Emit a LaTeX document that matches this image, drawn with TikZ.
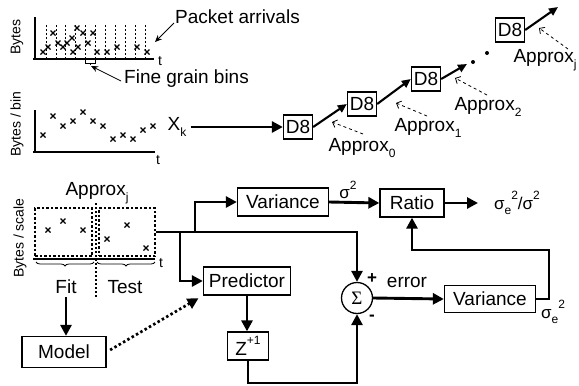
\documentclass[tikz,border=0pt]{standalone}
\usepackage{fontspec}
\setmainfont{Liberation Sans}
\newfontfamily\sigfont{Liberation Serif}
\usetikzlibrary{arrows.meta,decorations.pathreplacing,calc}
\newcommand{\lo}[1]{\raisebox{-0.3em}{\fontsize{12}{12}\selectfont #1}}
\newcommand{\hi}[1]{\raisebox{0.55em}{\fontsize{12}{12}\selectfont #1}}
\begin{document}
\begin{tikzpicture}[x=1pt,y=-1pt,
  lbl/.style={font=\fontsize{19}{22}\selectfont, inner sep=0pt},
  sml/.style={font=\fontsize{14}{16}\selectfont, inner sep=0pt},
  blk/.style={draw, line width=1.3pt, fill=white, minimum height=28, font=\fontsize{19}{22}\selectfont, inner sep=0pt},
  dbox/.style={blk, minimum width=29, minimum height=24},
  heavy/.style={line width=2.9pt},
  mid/.style={line width=2.1pt},
  bigtip/.style={-{Triangle[length=11pt,width=11pt]}},
  smtip/.style={-{Triangle[length=9pt,width=8pt]}},
  thinarr/.style={line width=0.8pt, -{Stealth[length=7pt,width=6pt]}},
  dasharr/.style={line width=0.8pt, dash pattern=on 3pt off 3pt, -{Straight Barb[length=4pt,width=8pt]}},
  axis/.style={line width=1.2pt},
  xmk/.style={line width=1.4pt},
  dotbox/.style={draw, line width=2.7pt, dash pattern=on 2.5pt off 2pt},
]
\useasboundingbox (0,0) rectangle (579,386);

% ---------- top plot: packet arrivals ----------
\draw[axis] (35,17) -- (35,60);
\draw[axis] (33,59) -- (154,59);
\node[sml] (t1) at (160,61) {t};
\node[sml, rotate=90] (yl1) at (17,37) {Bytes};
\foreach \x in {46,55.9,65.8,75.7,85.6,95.5,105.4,115.3,125.2,135.1,145}
  \draw[line width=0.7pt, dash pattern=on 2pt off 2pt] (\x,59) -- (\x,25);
\foreach \x/\y in {43/52,48/47,53/33,58/43,63/47,67/43,72/38,73/52,77/28,78/47,83/33,88/43,93/33,97/52,107/52,117/47,137/47,147/52}
  \draw[xmk] (\x-2.5,\y-2.5) -- (\x+2.5,\y+2.5) (\x-2.5,\y+2.5) -- (\x+2.5,\y-2.5);
\draw[line width=0.8pt] (85.6,59) -- (85.6,63) -- (95.5,63) -- (95.5,59);
\draw[line width=0.8pt] (90.5,63) -- (90.5,65);
\coordinate (binmark) at (91,66);
\coordinate (pktpt) at (155,42);
\node[lbl, anchor=west] (pa) at (175,17) {Packet arrivals};
\node[lbl, anchor=west] (fgb) at (124,79) {Fine grain bins};
\draw[thinarr] ([xshift=-1pt,yshift=-6pt]pa.west) -- (pktpt);
\draw[thinarr] ([xshift=-3pt,yshift=-2pt]fgb.west) -- (binmark);

% ---------- second plot: bytes per bin ----------
\draw[axis] (35,110) -- (35,153);
\draw[axis] (33,152) -- (155,152);
\node[sml] (t2) at (158,160) {t};
\node[sml, rotate=90] (yl2) at (17,124) {Bytes / bin};
\foreach \x/\y in {43/135,53/116,63/126,73/121,83/112,93/121,103/126,113/139,123/135,133/139,143/130,153/126}
  \draw[xmk] (\x-2.5,\y-2.5) -- (\x+2.5,\y+2.5) (\x-2.5,\y+2.5) -- (\x+2.5,\y-2.5);

% ---------- D8 cascade ----------
\node[lbl] (xk) at (177,127) {X\lo{k}};
\node[dbox] (d1) at (298,127) {D8};
\node[dbox] (d2) at (362,104) {D8};
\node[dbox] (d3) at (426,79) {D8};
\node[dbox] (d4) at (510,30) {D8};
\draw[heavy, bigtip] ([xshift=4pt]xk.east) -- (d1.west);
\draw[mid, smtip] (d1.east) -- (d2.west);
\draw[mid, smtip] (d2.east) -- (d3.west);
\coordinate (d3end) at (467,64);
\draw[mid, smtip] (d3.east) -- (d3end);
\fill (473,62) circle (2pt) (487,53) circle (2pt);
\coordinate (d4end) at (558,7);
\draw[mid, smtip] (d4.east) -- (d4end);

\node[lbl] (ap0) at (362,148) {Approx\lo{0}};
\node[lbl] (ap1) at (428,128) {Approx\lo{1}};
\node[lbl] (ap2) at (488,107) {Approx\lo{2}};
\node[lbl] (apj) at (545,60) {Approx\lo{j}};
\coordinate (t0) at (332,122);
\coordinate (t1) at (396,103);
\coordinate (t2) at (455,78);
\coordinate (tj) at (539,28);
\draw[dasharr] (363,134) -- (t0);
\draw[dasharr] (427,116) -- (t1);
\draw[dasharr] (487,95) -- (t2);
\draw[dasharr] (568,49) -- (tj);

% ---------- bottom-left plot: approx_j ----------
\node[lbl] (apjb) at (97,193) {Approx\lo{j}};
\node[dotbox, minimum width=57, minimum height=48, inner sep=0pt] (fitbox) at (63.5,232) {};
\node[dotbox, minimum width=56, minimum height=48, inner sep=0pt] (testbox) at (127,232) {};
\draw[line width=1.6pt, dash pattern=on 2pt off 2pt] (96,203) -- (96,298);
\draw[axis] (33,259) -- (155,259);
\node[sml] (t3) at (161,263) {t};
\node[sml, rotate=90] (yl3) at (20,238) {Bytes / scale};
\foreach \x/\y in {48/230,63/221,83/230,107/239,127/225,146/248}
  \draw[xmk] (\x-2.5,\y-2.5) -- (\x+2.5,\y+2.5) (\x-2.5,\y+2.5) -- (\x+2.5,\y-2.5);
\draw[line width=0.8pt, decorate, decoration={brace, amplitude=4pt, mirror}] (36,262) -- (94,262);
\draw[line width=0.8pt, decorate, decoration={brace, amplitude=4pt, mirror}] (97,262) -- (155,262);
\node[lbl] (fit) at (66,287) {Fit};
\node[lbl] (test) at (125,287) {Test};

% ---------- processing blocks ----------
\node[blk, minimum width=84, minimum height=31] (model) at (64,352) {Model};
\node[blk, minimum width=87] (pred) at (247,281) {Predictor};
\node[blk, minimum width=91] (var1) at (283,202) {Variance};
\node[blk, minimum width=64] (ratio) at (412,203) {Ratio};
\node[blk, minimum width=91, minimum height=27] (var2) at (490,299) {Variance};
\node[blk, minimum width=41] (zz) at (248,346) {Z\hi{+1}};
\node[draw, circle, line width=1.3pt, minimum size=31, inner sep=0pt, font=\sigfont\fontsize{19}{19}\selectfont] (sum) at (357,298) {Σ};

\coordinate (j1) at (180,232);
\coordinate (j2) at (195,232);
\coordinate (fb) at (549,250);
\coordinate (bot) at (0,383);
\coordinate (outp) at (478,203);

\draw[heavy, bigtip] (testbox.east) -| (sum.north);
\draw[heavy, bigtip] (j1) |- (pred.west);
\draw[heavy, bigtip] (j2) |- (var1.west);
\draw[heavy, bigtip] (var1.east) -- (ratio.west);
\draw[heavy, bigtip] (ratio.east) -- (outp);
\draw[heavy, bigtip] (sum.east) -- (var2.west);
\draw[heavy, bigtip] (var2.east) -| (fb) -| (ratio.south);
\draw[heavy, bigtip] (pred.south) -- (pred.south |- zz.north);
\draw[heavy, bigtip] (zz.south) -- (zz.south |- bot) -| (sum.south);
\draw[heavy, bigtip, shorten <=3pt] (fit.south) -- (fit.south |- model.north);
\draw[line width=2.7pt, dash pattern=on 2.5pt off 2.5pt, -{Triangle[length=11pt,width=11pt]}, shorten <=4pt, shorten >=5pt] (model.east) -- (pred.south west);

\node[lbl, font=\fontsize{17}{19}\selectfont] (s2) at (348,190) {σ\hi{2}};
\node[lbl, font=\fontsize{17}{19}\selectfont] (ratiolbl) at (517,203) {σ\lo{e}\hi{2}/σ\hi{2}};
\node[lbl, font=\fontsize{17}{19}\selectfont] (se2) at (553,312) {σ\lo{e}\hi{2}};
\node[lbl] (err) at (407,282) {error};
\node[lbl, font=\bfseries\fontsize{17}{19}\selectfont] (plus) at (372,279) {+};
\node[lbl, font=\bfseries\fontsize{17}{19}\selectfont] (minus) at (372,318) {-};
\end{tikzpicture}
\end{document}
